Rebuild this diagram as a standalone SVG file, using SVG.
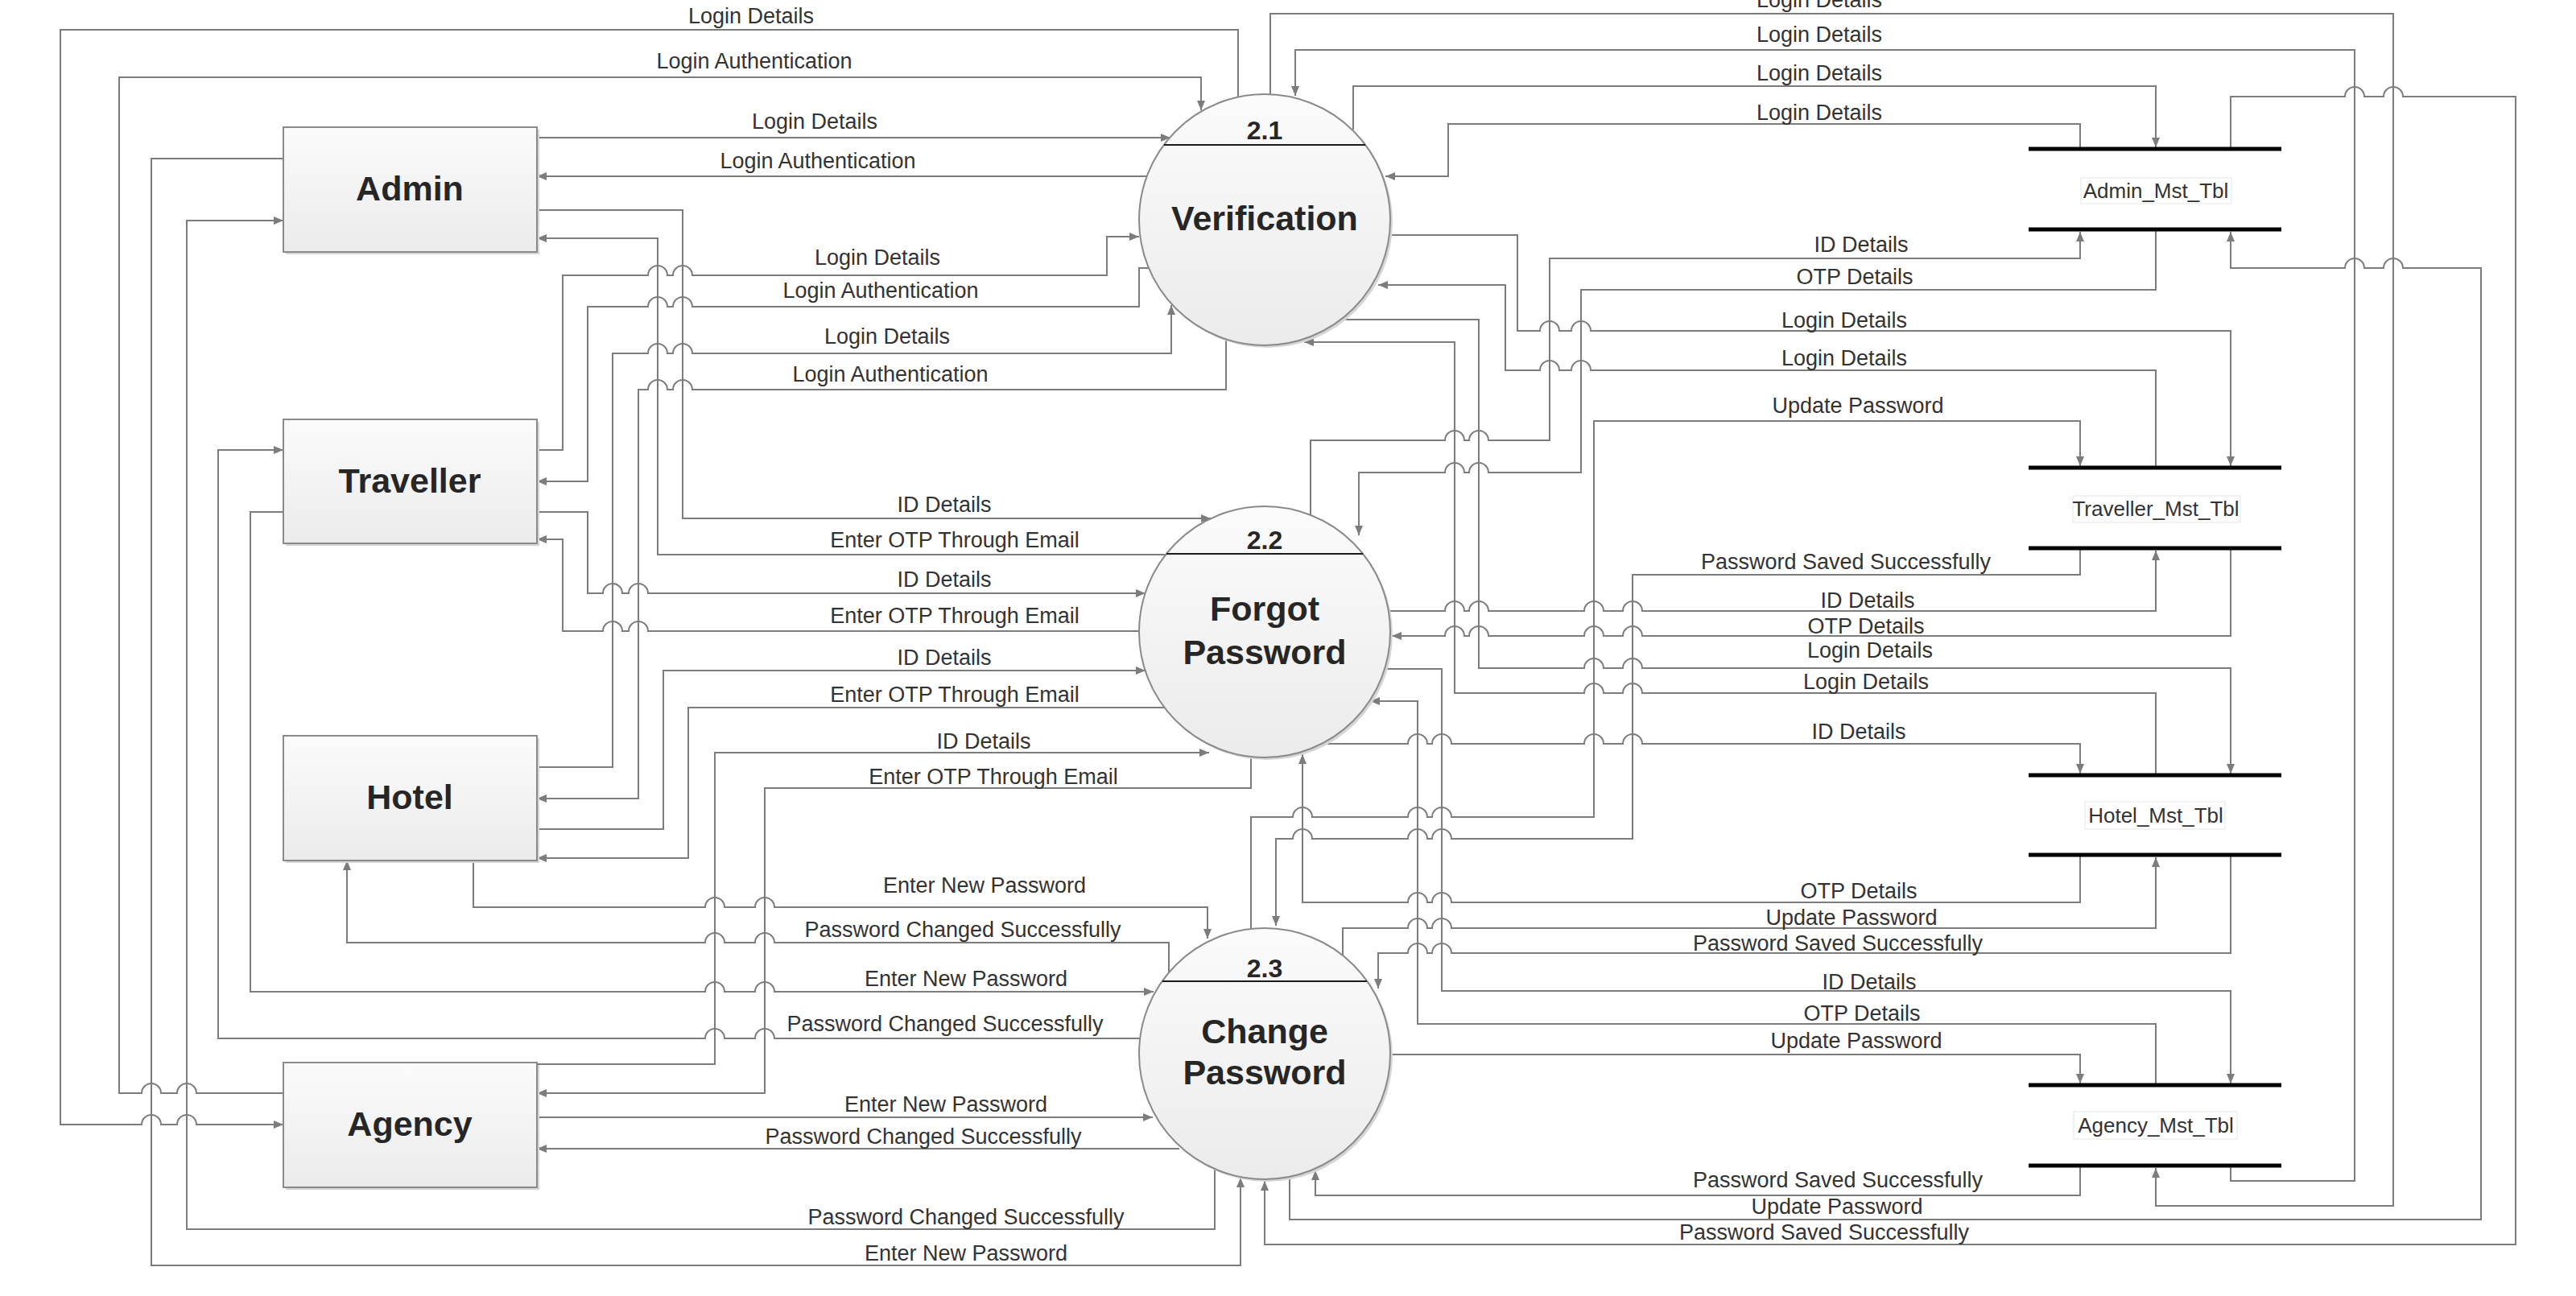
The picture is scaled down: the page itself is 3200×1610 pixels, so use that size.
<svg xmlns="http://www.w3.org/2000/svg" width="3200" height="1610" viewBox="0 0 3200 1610">
<style>
.c{fill:none;stroke:#7c7c7c;stroke-width:2;marker-end:url(#a)}
.l{font-family:"Liberation Sans",Arial,sans-serif;font-size:27px;fill:#333;text-anchor:middle}
.e{fill:url(#g);stroke:#8a8a8a;stroke-width:2}
.sh{fill:#d6d6d6}
.et{font-family:"Liberation Sans",Arial,sans-serif;font-size:43px;font-weight:bold;fill:#262626;text-anchor:middle}
.pn{font-family:"Liberation Sans",Arial,sans-serif;font-size:32px;font-weight:bold;fill:#262626;text-anchor:middle}
.dv{stroke:#1a1a1a;stroke-width:2}
.st{stroke:#000;stroke-width:5}
.sl{font-family:"Liberation Sans",Arial,sans-serif;font-size:26px;fill:#333;text-anchor:middle}
.sb{fill:#fff;stroke:#e6e6e6;stroke-width:1}
</style>
<defs>
<marker id="a" viewBox="0 0 12 10" refX="12" refY="5" markerWidth="12" markerHeight="10" markerUnits="userSpaceOnUse" orient="auto"><path d="M0,0 L12,5 L0,10 z" fill="#7c7c7c"/></marker>
<linearGradient id="g" x1="0" y1="0" x2="0" y2="1"><stop offset="0" stop-color="#fbfbfb"/><stop offset="1" stop-color="#ebebeb"/></linearGradient>
</defs>
<rect width="3200" height="1610" fill="#fff"/>

<g id="connectors">
<path class="c" d="M1538,121 V37 H75 V1397 H176 A12,12 0 0 1 200,1397 H220 A12,12 0 0 1 244,1397 H352"/>
<path class="c" d="M352,1358 H244 A12,12 0 0 0 220,1358 H200 A12,12 0 0 0 176,1358 H148 V96 H1492 V137"/>
<path class="c" d="M667,171 H1454"/>
<path class="c" d="M1426,219 H667"/>
<path class="c" d="M667,261 H848 V644 H1504"/>
<path class="c" d="M1448,689 H817 V296 H667"/>
<path class="c" d="M667,559 H699 V342 H805 A12,12 0 0 1 829,342 H836 A12,12 0 0 1 860,342 H1375 V294 H1415"/>
<path class="c" d="M1428,333 H1415 V381 H860 A12,12 0 0 0 836,381 H829 A12,12 0 0 0 805,381 H730 V598 H667"/>
<path class="c" d="M667,953 H761 V439 H805 A12,12 0 0 1 829,439 H836 A12,12 0 0 1 860,439 H1455 V379"/>
<path class="c" d="M1523,421 V484 H860 A12,12 0 0 0 836,484 H829 A12,12 0 0 0 805,484 H793 V992 H667"/>
<path class="c" d="M667,636 H730 V737 H749 A12,12 0 0 1 773,737 H781 A12,12 0 0 1 805,737 H1423"/>
<path class="c" d="M1415,784 H805 A12,12 0 0 0 781,784 H773 A12,12 0 0 0 749,784 H699 V670 H667"/>
<path class="c" d="M667,1030 H824 V833 H1423"/>
<path class="c" d="M1447,879 H855 V1066 H667"/>
<path class="c" d="M667,1322 H888 V935 H1502"/>
<path class="c" d="M1554,940 V979 H950 V1358 H667"/>
<path class="c" d="M588,1069 V1127 H876 A12,12 0 0 1 900,1127 H938 A12,12 0 0 1 962,1127 H1500 V1166"/>
<path class="c" d="M1452,1208 V1171 H962 A12,12 0 0 0 938,1171 H900 A12,12 0 0 0 876,1171 H431 V1069"/>
<path class="c" d="M352,636 H311 V1232 H876 A12,12 0 0 1 900,1232 H938 A12,12 0 0 1 962,1232 H1433"/>
<path class="c" d="M1416,1290 H962 A12,12 0 0 0 938,1290 H900 A12,12 0 0 0 876,1290 H271 V559 H352"/>
<path class="c" d="M667,1388 H1432"/>
<path class="c" d="M1465,1427 H667"/>
<path class="c" d="M1509,1452 V1527 H232 V274 H352"/>
<path class="c" d="M352,197 H188 V1572 H1541 V1463"/>

<path class="c" d="M1578,117 V17 H2973 V1498 H2678 V1451"/>
<path class="c" d="M2771,1450 V1467 H2925 V62 H1609 V119"/>
<path class="c" d="M1681,161 V107 H2678 V183"/>
<path class="c" d="M2584,183 V154 H1799 V219 H1721"/>
<path class="c" d="M1602,1462 V1515 H3082 V333 H2985 A12,12 0 0 0 2961,333 H2937 A12,12 0 0 0 2913,333 H2771 V288"/>
<path class="c" d="M2771,183 V120 H2913 A12,12 0 0 1 2937,120 H2961 A12,12 0 0 1 2985,120 H3125 V1546 H1571 V1467"/>
<path class="c" d="M2584,1450 V1485 H1634 V1454"/>
<path class="c" d="M1628,641 V547 H1795 A12,12 0 0 1 1819,547 H1825 A12,12 0 0 1 1849,547 H1925 V321 H2584 V288"/>
<path class="c" d="M2678,287 V360 H1964 V587 H1849 A12,12 0 0 0 1825,587 H1819 A12,12 0 0 0 1795,587 H1688 V665"/>
<path class="c" d="M1726,292 H1885 V411 H1913 A12,12 0 0 1 1937,411 H1952 A12,12 0 0 1 1976,411 H2771 V579"/>
<path class="c" d="M2678,583 V460 H1976 A12,12 0 0 0 1952,460 H1937 A12,12 0 0 0 1913,460 H1870 V354 H1712"/>
<path class="c" d="M1666,397 H1837 V830 H1968 A12,12 0 0 1 1992,830 H2016 A12,12 0 0 1 2040,830 H2771 V961"/>
<path class="c" d="M2678,965 V861 H2040 A12,12 0 0 0 2016,861 H1992 A12,12 0 0 0 1968,861 H1807 V425 H1620"/>
<path class="c" d="M1554,1154 V1015 H1606 A12,12 0 0 1 1630,1015 H1749 A12,12 0 0 1 1773,1015 H1779 A12,12 0 0 1 1803,1015 H1980 V523 H2584 V579"/>
<path class="c" d="M2584,683 V714 H2028 V1042 H1803 A12,12 0 0 0 1779,1042 H1773 A12,12 0 0 0 1749,1042 H1630 A12,12 0 0 0 1606,1042 H1585 V1150"/>
<path class="c" d="M1725,759 H1795 A12,12 0 0 1 1819,759 H1825 A12,12 0 0 1 1849,759 H1968 A12,12 0 0 1 1992,759 H2016 A12,12 0 0 1 2040,759 H2678 V684"/>
<path class="c" d="M2771,683 V790 H2040 A12,12 0 0 0 2016,790 H1992 A12,12 0 0 0 1968,790 H1849 A12,12 0 0 0 1825,790 H1819 A12,12 0 0 0 1795,790 H1729"/>
<path class="c" d="M1642,924 H1749 A12,12 0 0 1 1773,924 H1779 A12,12 0 0 1 1803,924 H1968 A12,12 0 0 1 1992,924 H2016 A12,12 0 0 1 2040,924 H2584 V961"/>
<path class="c" d="M2584,1064 V1121 H1803 A12,12 0 0 0 1779,1121 H1773 A12,12 0 0 0 1749,1121 H1618 V937"/>
<path class="c" d="M1668,1187 V1153 H1749 A12,12 0 0 1 1773,1153 H1779 A12,12 0 0 1 1803,1153 H2678 V1065"/>
<path class="c" d="M2771,1064 V1184 H1803 A12,12 0 0 0 1779,1184 H1773 A12,12 0 0 0 1749,1184 H1712 V1228"/>
<path class="c" d="M1720,831 H1791 V1231 H2771 V1346"/>
<path class="c" d="M2678,1350 V1272 H1761 V871 H1702"/>
<path class="c" d="M1727,1310 H2584 V1346"/>
</g>

<g id="connector-labels">
<text class="l" x="933" y="29">Login Details</text>
<text class="l" x="937" y="85">Login Authentication</text>
<text class="l" x="1012" y="160">Login Details</text>
<text class="l" x="1016" y="209">Login Authentication</text>
<text class="l" x="1090" y="329">Login Details</text>
<text class="l" x="1094" y="370">Login Authentication</text>
<text class="l" x="1102" y="427">Login Details</text>
<text class="l" x="1106" y="474">Login Authentication</text>
<text class="l" x="1173" y="636">ID Details</text>
<text class="l" x="1186" y="680">Enter OTP Through Email</text>
<text class="l" x="1173" y="729">ID Details</text>
<text class="l" x="1186" y="774">Enter OTP Through Email</text>
<text class="l" x="1173" y="826">ID Details</text>
<text class="l" x="1186" y="872">Enter OTP Through Email</text>
<text class="l" x="1222" y="930">ID Details</text>
<text class="l" x="1234" y="974">Enter OTP Through Email</text>
<text class="l" x="1223" y="1109">Enter New Password</text>
<text class="l" x="1196" y="1164">Password Changed Successfully</text>
<text class="l" x="1200" y="1225">Enter New Password</text>
<text class="l" x="1174" y="1281">Password Changed Successfully</text>
<text class="l" x="1175" y="1381">Enter New Password</text>
<text class="l" x="1147" y="1421">Password Changed Successfully</text>
<text class="l" x="1200" y="1521">Password Changed Successfully</text>
<text class="l" x="1200" y="1566">Enter New Password</text>

<text class="l" x="2260" y="9">Login Details</text>
<text class="l" x="2260" y="52">Login Details</text>
<text class="l" x="2260" y="100">Login Details</text>
<text class="l" x="2260" y="149">Login Details</text>
<text class="l" x="2312" y="313">ID Details</text>
<text class="l" x="2304" y="353">OTP Details</text>
<text class="l" x="2291" y="407">Login Details</text>
<text class="l" x="2291" y="454">Login Details</text>
<text class="l" x="2308" y="513">Update Password</text>
<text class="l" x="2293" y="707">Password Saved Successfully</text>
<text class="l" x="2320" y="755">ID Details</text>
<text class="l" x="2318" y="787">OTP Details</text>
<text class="l" x="2323" y="817">Login Details</text>
<text class="l" x="2318" y="856">Login Details</text>
<text class="l" x="2309" y="918">ID Details</text>
<text class="l" x="2309" y="1116">OTP Details</text>
<text class="l" x="2300" y="1149">Update Password</text>
<text class="l" x="2283" y="1181">Password Saved Successfully</text>
<text class="l" x="2322" y="1229">ID Details</text>
<text class="l" x="2313" y="1268">OTP Details</text>
<text class="l" x="2306" y="1302">Update Password</text>
<text class="l" x="2283" y="1475">Password Saved Successfully</text>
<text class="l" x="2282" y="1508">Update Password</text>
<text class="l" x="2266" y="1540">Password Saved Successfully</text>
</g>

<g id="admin">
<rect class="sh" x="355" y="161" width="315" height="155"/>
<rect class="e" x="352" y="158" width="315" height="155"/>
<text class="et" x="509" y="249">Admin</text>
</g>
<g id="traveller">
<rect class="sh" x="355" y="524" width="315" height="154"/>
<rect class="e" x="352" y="521" width="315" height="154"/>
<text class="et" x="509" y="612">Traveller</text>
</g>
<g id="hotel">
<rect class="sh" x="355" y="917" width="315" height="155"/>
<rect class="e" x="352" y="914" width="315" height="155"/>
<text class="et" x="509" y="1005">Hotel</text>
</g>
<g id="agency">
<rect class="sh" x="355" y="1323" width="315" height="155"/>
<rect class="e" x="352" y="1320" width="315" height="155"/>
<text class="et" x="509" y="1411">Agency</text>
</g>

<g id="p2.1">
<circle class="sh" cx="1574" cy="276" r="156"/>
<circle class="e" cx="1571" cy="273" r="156"/>
<line class="dv" x1="1446" y1="180" x2="1696" y2="180"/>
<text class="pn" x="1571" y="173">2.1</text>
<text class="et" x="1571" y="286">Verification</text>
</g>
<g id="p2.2">
<circle class="sh" cx="1574" cy="788" r="156"/>
<circle class="e" cx="1571" cy="785" r="156"/>
<line class="dv" x1="1449" y1="688" x2="1693" y2="688"/>
<text class="pn" x="1571" y="682">2.2</text>
<text class="et" x="1571" y="771">Forgot</text>
<text class="et" x="1571" y="825">Password</text>
</g>
<g id="p2.3">
<circle class="sh" cx="1574" cy="1312" r="156"/>
<circle class="e" cx="1571" cy="1309" r="156"/>
<line class="dv" x1="1444" y1="1219" x2="1698" y2="1219"/>
<text class="pn" x="1571" y="1214">2.3</text>
<text class="et" x="1571" y="1296">Change</text>
<text class="et" x="1571" y="1347">Password</text>
</g>

<g id="admin_mst_tbl">
<line class="st" x1="2520" y1="185" x2="2834" y2="185"/>
<line class="st" x1="2520" y1="285" x2="2834" y2="285"/>
<rect class="sb" x="2585" y="221" width="187" height="32"/>
<text class="sl" x="2678" y="246">Admin_Mst_Tbl</text>
</g>
<g id="traveller_mst_tbl">
<line class="st" x1="2520" y1="581" x2="2834" y2="581"/>
<line class="st" x1="2520" y1="681" x2="2834" y2="681"/>
<rect class="sb" x="2575" y="616" width="208" height="33"/>
<text class="sl" x="2678" y="641">Traveller_Mst_Tbl</text>
</g>
<g id="hotel_mst_tbl">
<line class="st" x1="2520" y1="963" x2="2834" y2="963"/>
<line class="st" x1="2520" y1="1062" x2="2834" y2="1062"/>
<rect class="sb" x="2590" y="996" width="174" height="34"/>
<text class="sl" x="2678" y="1022">Hotel_Mst_Tbl</text>
</g>
<g id="agency_mst_tbl">
<line class="st" x1="2520" y1="1348" x2="2834" y2="1348"/>
<line class="st" x1="2520" y1="1448" x2="2834" y2="1448"/>
<rect class="sb" x="2576" y="1381" width="203" height="34"/>
<text class="sl" x="2678" y="1407">Agency_Mst_Tbl</text>
</g>
</svg>
